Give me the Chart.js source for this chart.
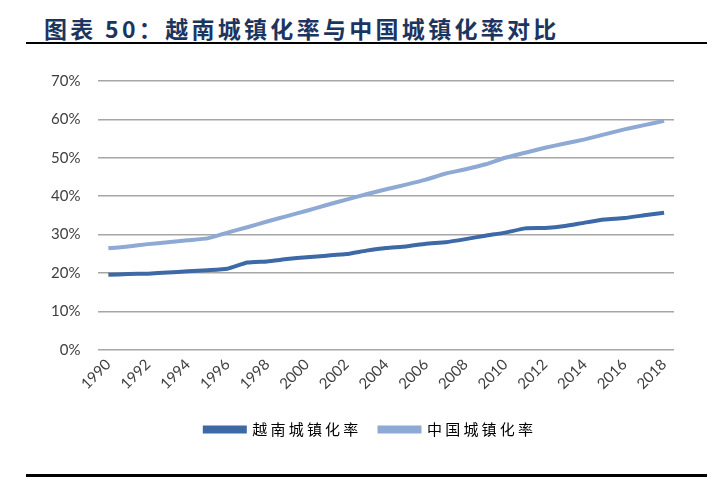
<!DOCTYPE html>
<html>
<head>
<meta charset="utf-8">
<script src="https://cdn.jsdelivr.net/npm/chart.js@4/dist/chart.umd.min.js"></script>
<style>
  html, body { margin: 0; padding: 0; background: #fff; }
  body { width: 721px; height: 492px; position: relative; overflow: hidden; }
  #title { position: absolute; left: 44px; top: 13px; font-family: "Noto Sans CJK SC", sans-serif; font-weight: 700; font-size: 23px; letter-spacing: 3.3px; color: #1B3560; white-space: nowrap; line-height: 30px; }
  #rule1 { position: absolute; left: 26px; width: 681px; top: 42px; height: 2px; background: #000; }
  #rule2 { position: absolute; left: 26px; width: 681px; top: 474px; height: 3px; background: #000; }
  #wrap { position: absolute; left: 0; top: 60px; width: 721px; height: 400px; }
</style>
</head>
<body>
<div id="title">图表 50：越南城镇化率与中国城镇化率对比</div>
<div id="rule1"></div>
<div id="rule2"></div>
<div id="wrap"><canvas id="c"></canvas></div>
<script>
const years = ['1990','1991','1992','1993','1994','1995','1996','1997','1998','1999','2000','2001','2002','2003','2004','2005','2006','2007','2008','2009','2010','2011','2012','2013','2014','2015','2016','2017','2018'];
const vietnamUrban = [19.5,19.7,19.8,20.1,20.4,20.7,21.1,22.7,23.0,23.6,24.1,24.5,24.9,25.8,26.5,26.9,27.6,28.0,28.8,29.7,30.5,31.6,31.7,32.2,33.1,33.9,34.3,35.0,35.7];
const chinaUrban = [26.4,26.9,27.5,28.0,28.5,29.0,30.5,31.9,33.4,34.8,36.2,37.7,39.1,40.5,41.8,43.0,44.3,45.9,47.0,48.3,50.0,51.3,52.6,53.7,54.8,56.1,57.4,58.5,59.6];
const seriesNames = ['越南城镇化率','中国城镇化率'];
const yTicks = [0,10,20,30,40,50,60,70];

const tickFont = { family: 'Lato, "Open Sans", sans-serif', size: 15 };

// letter spacing for the legend text, and a small horizontal shift of the legend
const legendTweak = {
  id: 'legendTweak',
  beforeUpdate(chart) {
    const lg = chart.legend;
    if (!lg || lg._spaced) return;
    lg._spaced = true;
    const wrap = (fn) => function() {
      const c = this.ctx; c.save(); c.letterSpacing = '3.2px';
      const r = fn.apply(this, arguments); c.restore(); return r;
    };
    lg.fit = wrap(lg.fit);
    lg.draw = wrap(lg.draw);
  },
  afterLayout(chart) {
    const lg = chart.legend;
    if (lg) { lg.left += 10; lg.right += 10; }
  }
};

new Chart(document.getElementById('c'), {
  type: 'line',
  data: {
    labels: years,
    datasets: [
      { label: seriesNames[0], data: vietnamUrban, borderColor: '#3D69A6', backgroundColor: '#3D69A6', borderWidth: 4, pointRadius: 0, tension: 0.15, fill: false },
      { label: seriesNames[1], data: chinaUrban, borderColor: '#8EA9D3', backgroundColor: '#8EA9D3', borderWidth: 4, pointRadius: 0, tension: 0.15, fill: false }
    ]
  },
  plugins: [legendTweak],
  options: {
    responsive: true,
    maintainAspectRatio: false,
    animation: false,
    layout: { padding: { left: 47, right: 47, top: 21, bottom: 13 } },
    plugins: {
      legend: {
        position: 'bottom',
        labels: { boxWidth: 40, boxHeight: 4, padding: 18, color: '#000', font: { family: '"Noto Sans CJK SC", sans-serif', size: 15 } }
      },
      tooltip: { enabled: false }
    },
    scales: {
      x: {
        offset: true,
        grid: { display: false, drawTicks: false },
        border: { display: false },
        ticks: {
          autoSkip: false, maxRotation: 45, minRotation: 45, padding: 6, color: '#404040', font: tickFont,
          callback: function(v, i) { return i % 2 === 0 ? years[i] : null; }
        },
        afterFit: function(scale) { scale.height += 5; }
      },
      y: {
        min: 0, max: 70,
        afterBuildTicks: function(scale) { scale.ticks = yTicks.map(v => ({ value: v })); },
        grid: { color: '#A6A6A6', lineWidth: 1.5, drawTicks: true, tickLength: 14, tickColor: 'rgba(0,0,0,0)' },
        border: { display: false },
        ticks: { padding: 4, color: '#404040', font: tickFont, callback: v => v + '%' }
      }
    }
  }
});
</script>
</body>
</html>
